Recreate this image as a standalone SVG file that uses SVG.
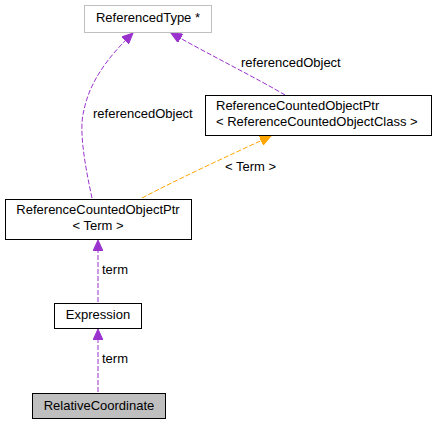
<svg xmlns="http://www.w3.org/2000/svg" width="437" height="424" viewBox="0 0 437 424">
<style>
text{font-family:"Liberation Sans",Arial,sans-serif;font-size:13px;fill:#000}
.box{fill:#fff;stroke:#000;stroke-width:1}
.e{fill:none;stroke:#9a32cd;stroke-dasharray:5,2}
.o{fill:none;stroke:#ffa500;stroke-dasharray:5,2}
</style>
<defs>
<marker id="ap" markerWidth="12" markerHeight="10" refX="11" refY="5" orient="auto" markerUnits="userSpaceOnUse"><path d="M0,0 L11,5 L0,10 Z" fill="#9a32cd" stroke="#9a32cd"/></marker>
<marker id="ao" markerWidth="12" markerHeight="10" refX="11" refY="5" orient="auto" markerUnits="userSpaceOnUse"><path d="M0,0 L11,5 L0,10 Z" fill="#ffa500" stroke="#ffa500"/></marker>
</defs>
<g id="connectors">
<path class="e" d="M98,392 L98,329" marker-end="url(#ap)"/>
<text x="102" y="363">term</text>
<path class="e" d="M98,302 L98,240" marker-end="url(#ap)"/>
<text x="102" y="274">term</text>
<path class="e" d="M92,198 C86,170 78,130 84,110 C90,80 110,55 133,33" marker-end="url(#ap)"/>
<text x="93" y="118">referencedObject</text>
<path class="e" d="M285,95 C260,80 210,55 171,33" marker-end="url(#ap)"/>
<text x="241" y="67">referencedObject</text>
<path class="o" d="M142,198 C180,178 230,155 271,136" marker-end="url(#ao)"/>
<text x="225" y="171">&lt; Term &gt;</text>
</g>
<g id="referencedType">
<rect x="84.5" y="5.5" width="127" height="27" fill="#fff" stroke="#bfbfbf"/>
<text x="148" y="22" text-anchor="middle">ReferencedType *</text>
</g>
<g id="refPtrClass">
<rect class="box" x="205.5" y="95.5" width="226" height="40"/>
<text x="216" y="110">ReferenceCountedObjectPtr</text>
<text x="216" y="126">&lt; ReferenceCountedObjectClass &gt;</text>
</g>
<g id="refPtrTerm">
<rect class="box" x="5.5" y="199.5" width="186" height="40"/>
<text x="98" y="214" text-anchor="middle">ReferenceCountedObjectPtr</text>
<text x="98" y="230" text-anchor="middle">&lt; Term &gt;</text>
</g>
<g id="expression">
<rect class="box" x="54.5" y="303.5" width="87" height="25"/>
<text x="98" y="319" text-anchor="middle">Expression</text>
</g>
<g id="relativeCoordinate">
<rect x="32.5" y="393.5" width="133" height="25" fill="#bfbfbf" stroke="#000"/>
<text x="99" y="410" text-anchor="middle">RelativeCoordinate</text>
</g>
</svg>
